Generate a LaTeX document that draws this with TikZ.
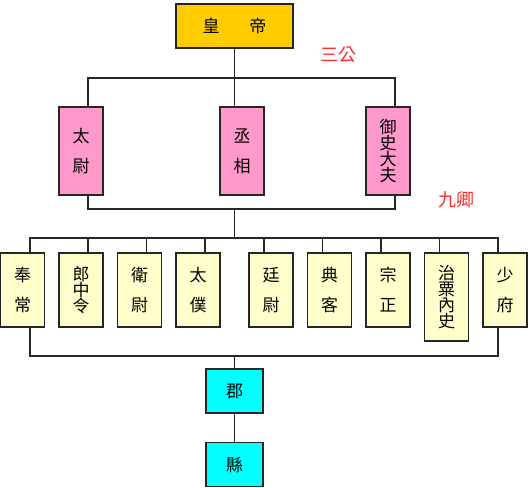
\documentclass[tikz,border=0pt]{standalone}
\usepackage{xcolor}
\usepackage{fontspec}
\setmainfont{Noto Sans CJK TC}
\usepackage{tikz}
\usetikzlibrary{positioning}
\definecolor{huang}{HTML}{FFCC00}
\definecolor{fen}{HTML}{FF99CC}
\definecolor{danhuang}{HTML}{FFFFCC}
\definecolor{qing}{HTML}{00FFFF}
\definecolor{hong}{HTML}{FF2A2A}
\tikzstyle{conn} = [line width=1.7pt, draw=black!85]

\begin{document}
\begin{tikzpicture}[x=1pt, y=-1pt, node distance=58.5pt, on grid]
        \tikzstyle{box}=[
            draw=black!85,
            line width=1.6pt,
            inner sep=0pt,
            align=center,
            font=\fontsize{17}{16}\selectfont
        ]
        \tikzstyle{gongbox}=[box, fill=fen, minimum width=44pt, minimum height=88pt]
        \tikzstyle{qingbox}=[box, fill=danhuang, minimum width=44pt, minimum height=74pt]
        \tikzstyle{junbox}=[box, fill=qing, minimum width=57pt, minimum height=44pt]
        \tikzstyle{redtext}=[text=hong, font=\fontsize{18}{18}\selectfont]

        \useasboundingbox (0,0) rectangle (531,488);

        % emperor and the three
        \node[box, fill=huang, minimum width=117pt, minimum height=44pt] (emp) at (234.5,26) {皇\hspace{30pt}帝};
        \node[gongbox] (cx) at (242,151) {丞\\[14pt]相};
        \node[gongbox] (tw) [left=161pt of cx] {太\\[14pt]尉};
        \node[gongbox] (ys) [right=146pt of cx] {御\\史\\大\\夫};

        % nine ministers
        \node[qingbox] (fc) at (22.5,290) {奉\\[14pt]常};
        \node[qingbox] (lz) [right=of fc] {郎\\中\\令};
        \node[qingbox] (ww) [right=of lz] {衛\\[14pt]尉};
        \node[qingbox] (tp) [right=of ww] {太\\[14pt]僕};
        \node[qingbox] (tyw) [right=73pt of tp] {廷\\[14pt]尉};
        \node[qingbox] (dk) [right=of tyw] {典\\[14pt]客};
        \node[qingbox] (zz) [right=of dk] {宗\\[14pt]正};
        \node[qingbox, minimum height=88pt] (zs) [right=of zz, yshift=-7pt] {治\\粟\\內\\史};
        \node[qingbox] (sf) [right=117pt of zz] {少\\[14pt]府};

        % commandery and county
        \node[junbox] (jun) at (234.5,391) {郡};
        \node[junbox] (xian) [below=73.5pt of jun] {縣};

        \node[redtext] (sg) at (338,55) {三公};
        \node[redtext] (jq) at (456,200) {九卿};

        \coordinate (b1) at (234.5,78);
        \coordinate (b2) at (234.5,209);
        \coordinate (b3) at (234.5,238);
        \coordinate (b4) at (234.5,356);

        \draw[conn] (emp.south) -- ([xshift=-7.5pt]cx.north);
        \draw[conn] ([xshift=7pt]tw.north) |- (b1) -| ([xshift=7pt]ys.north);
        \draw[conn] ([xshift=7pt]tw.south) |- (b2) -| ([xshift=7pt]ys.south);
        \draw[conn] (b2) -- (b3);

        \draw[conn] ([xshift=7.5pt]fc.north) |- (b3) -| ([xshift=-7pt]sf.north);
        \foreach \n in {lz,ww,tp}
            \draw[conn] ([xshift=7pt]\n.north) |- (b3);
        \foreach \n in {tyw,dk,zz,zs}
            \draw[conn] ([xshift=-7pt]\n.north) |- (b3);

        \draw[conn] ([xshift=7.5pt]fc.south) |- (b4) -| ([xshift=-7pt]sf.south);
        \draw[conn] (b4) -- (jun);
        \draw[conn] (jun) -- (xian);

    \end{tikzpicture}
\end{document}
